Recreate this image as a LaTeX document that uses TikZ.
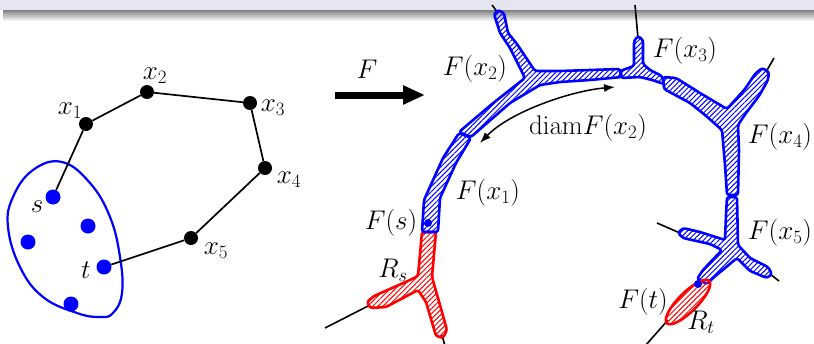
\RequirePackage{fix-cm}
\documentclass[tikz,border=0pt]{standalone}
\usetikzlibrary{arrows.meta,patterns.meta}
\definecolor{bandcol}{RGB}{230,230,242}
\begin{document}
\begin{tikzpicture}[x=1pt,y=-1pt,
  lbl/.style={inner sep=0pt,font=\fontsize{27}{32}\selectfont},
  bdot/.style={circle,fill=black,minimum size=14pt,inner sep=0pt},
  udot/.style={circle,fill=blue,minimum size=15pt,inner sep=0pt},
  sdot/.style={circle,fill=blue,minimum size=8pt,inner sep=0pt},
  gedge/.style={line width=1.7pt},
  stem/.style={line width=1.6pt},
  hatchpiece/.style={line width=2.6pt,line join=round,rounded corners=2.5pt,
    pattern={Lines[angle=45,distance=3.6pt,line width=1pt]}},
  bluepiece/.style={hatchpiece,draw=blue,pattern color=blue},
  redpiece/.style={hatchpiece,draw=red,pattern color=red}
]
\useasboundingbox (0,0) rectangle (814,343);
\clip (0,0) rectangle (814,343);
% header band
\shade[top color=black!50,bottom color=white] (3,10) rectangle (814,21);
\fill[bandcol] (0,0) rectangle (814,10);

% ---------- left graph ----------
\draw[blue,line width=2.2pt] plot[smooth cycle,tension=0.7] coordinates
  {(62,162) (90,183) (110,217) (120,257) (122,293) (113,313) (100,317)
   (77,313) (43,297) (20,267) (8,227) (13,197) (33,170)};
\node[udot] (s) at (53,197) {};
\node[udot] (d2) at (88,226) {};
\node[udot] (d3) at (28,242) {};
\node[udot] (t) at (104,267) {};
\node[udot] (d5) at (71,304) {};
\node[bdot] (x1) at (86,124) {};
\node[bdot] (x2) at (147,92) {};
\node[bdot] (x3) at (250,103) {};
\node[bdot] (x4) at (265,168) {};
\node[bdot] (x5) at (191,238) {};
\draw[gedge] (s) -- (x1) -- (x2) -- (x3) -- (x4) -- (x5) -- (t);
\node[lbl] (lx1) at (70,111) {$x_1$};
\node[lbl] (lx2) at (155,76) {$x_2$};
\node[lbl] (lx3) at (273,108) {$x_3$};
\node[lbl] (lx4) at (289,180) {$x_4$};
\node[lbl] (lx5) at (216,251) {$x_5$};
\node[lbl] (ls) at (37,207) {$s$};
\node[lbl] (lt) at (86,270) {$t$};

% ---------- map arrow ----------
\coordinate (fa) at (335,95);
\coordinate (fb) at (425,95);
\draw[line width=7pt,-{Triangle[length=22pt,width=18pt]}] (fa) -- (fb);
\node[lbl] (lF) at (367,69) {$F$};

% ---------- black stems ----------
\coordinate (a1) at (492,5);   \coordinate (a2) at (498,13);
\coordinate (c1) at (635,5);   \coordinate (c2) at (638,38);
\coordinate (e1) at (774,58);  \coordinate (e2) at (766,72);
\coordinate (g1) at (657,223); \coordinate (g2) at (680,233);
\coordinate (h1) at (779,281); \coordinate (h2) at (770,274);
\coordinate (r1) at (325,328); \coordinate (r2) at (370,305);
\coordinate (q1) at (445,346); \coordinate (q2) at (442,335);
\coordinate (k1) at (645,346); \coordinate (k2) at (668,320);
\draw[stem] (a1) -- (a2);
\draw[stem] (c1) -- (c2);
\draw[stem] (e1) -- (e2);
\draw[stem] (g1) -- (g2);
\draw[stem] (h1) -- (h2);
\draw[stem] (r1) -- (r2);
\draw[stem] (q1) -- (q2);
\draw[stem] (k1) -- (k2);

% ---------- red R_s ----------
\draw[redpiece] (422,232) -- (436,232) -- (432,277) -- (440,305) -- (447,330)
  -- (443,338) -- (436,336) -- (426,302) -- (418,290) -- (386,307) -- (370,308)
  -- (367,302) -- (374,296) -- (410,280) -- (418,276) -- cycle;

% ---------- blue pieces ----------
% piece A (F(x2))
\draw[bluepiece] (494,14) -- (498,10) -- (504,13) -- (508,33) -- (517,44)
  -- (535,71) -- (560,71) -- (590,70) -- (620,69) -- (622,77) -- (590,80)
  -- (560,82) -- (540,85) -- (510,103) -- (471,137) -- (459,132) -- (492,104)
  -- (525,78) -- (510,48) -- (500,33) -- cycle;
% piece B (F(x1))
\draw[bluepiece] (459,133) -- (471,138) -- (456,163) -- (440,198) -- (438,232)
  -- (422,232) -- (424,200) -- (443,158) -- cycle;
% piece C (F(x3))
\draw[bluepiece] (620,71) -- (634,66) -- (634,41) -- (638,36) -- (643,40)
  -- (643,64) -- (650,70) -- (662,76) -- (664,84) -- (652,80) -- (640,77)
  -- (621,78) -- cycle;
% piece D (F(x4))
\draw[bluepiece] (663,77) -- (676,78) -- (700,93) -- (727,109) -- (745,89)
  -- (755,74) -- (762,68) -- (769,72) -- (768,80) -- (759,96) -- (746,113)
  -- (738,125) -- (739,150) -- (738,195) -- (727,195) -- (725,165) -- (722,130)
  -- (705,115) -- (690,103) -- (664,89) -- cycle;
% piece E (F(x5))
\draw[bluepiece] (727,197) -- (737,197) -- (738,245) -- (750,258) -- (768,267)
  -- (772,274) -- (767,278) -- (750,271) -- (737,258) -- (713,278) -- (707,284)
  -- (697,279) -- (703,270) -- (722,250) -- (710,244) -- (683,238) -- (678,233)
  -- (683,228) -- (700,232) -- (725,240) -- (726,215) -- cycle;

% ---------- red R_t ----------
\draw[redpiece,rotate around={45:(688,302)}] (688,302) ellipse (30 and 9.5);

% points F(s), F(t)
\node[sdot] (Fs) at (428,223) {};
\node[sdot] (Ft) at (698,284) {};

% ---------- diam arrow ----------
\coordinate (da) at (615,87);
\coordinate (db) at (480,143);
\draw[line width=1.5pt,{Latex[length=11pt,width=8pt]}-{Latex[length=11pt,width=8pt]}]
  (da) .. controls (570,91) and (510,112) .. (db);

% ---------- labels ----------
\node[lbl] (lFx2) at (475,69) {$F(x_2)$};
\node[lbl] (lFx3) at (685,51) {$F(x_3)$};
\node[lbl] (lFx4) at (780,137) {$F(x_4)$};
\node[lbl] (lFx5) at (780,233) {$F(x_5)$};
\node[lbl] (lFx1) at (488,193) {$F(x_1)$};
\node[lbl] (lFs) at (391,223) {$F(s)$};
\node[lbl] (lRs) at (393,270) {$R_s$};
\node[lbl] (lFt) at (643,302) {$F(t)$};
\node[lbl] (lRt) at (701,322) {$R_t$};
\node[lbl] (ldiam) at (588,128) {$\mathrm{diam}F(x_2)$};
\end{tikzpicture}
\end{document}
